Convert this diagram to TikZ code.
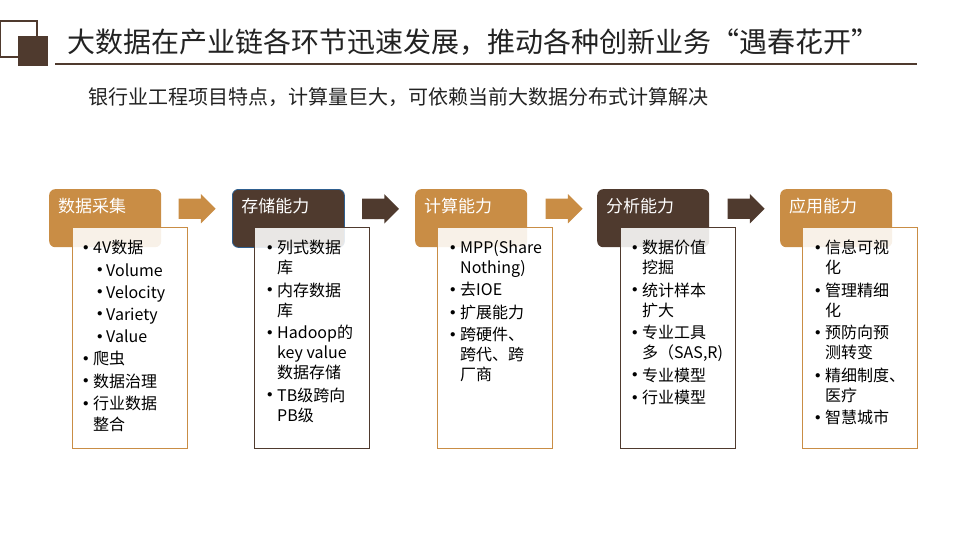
\documentclass[tikz,border=0pt]{standalone}
\usepackage{fontspec}
\setmainfont{Noto Sans CJK SC}
\usetikzlibrary{shapes.arrows}
\definecolor{ochre}{HTML}{C98D45}
\definecolor{umber}{HTML}{4F3A2E}
\definecolor{selblue}{HTML}{2F5F8F}
\definecolor{ink}{HTML}{222222}
\newcommand\dotmark{\raisebox{3.2pt}{\fontsize{11}{11}\selectfont$\bullet$}}
\newcommand\itm[1]{\makebox[10pt][l]{\dotmark}#1}
\newcommand\cnt[1]{\hspace*{10pt}#1}
\newcommand\sitm[1]{\hspace*{14pt}\makebox[9pt][l]{\dotmark}#1}

\begin{document}
\begin{tikzpicture}[x=1pt, y=-1pt,
    hdr/.style={rounded corners=6pt, text=white, font=\fontsize{17}{20}\selectfont, text width=94pt, align=left, inner xsep=9pt, inner ysep=0pt, text height=23pt, text depth=35pt, anchor=north west},
    card/.style={draw=#1, fill=white, fill opacity=0.88, line width=1pt, minimum width=115pt, minimum height=221pt, anchor=north west, inner sep=0pt},
    items/.style={anchor=north west, inner sep=0pt, align=left, text=black, font=\fontsize{16}{20}\selectfont},
    flow/.style={single arrow, fill=#1, minimum height=37pt, single arrow head extend=4.5pt, inner xsep=0pt, inner ysep=10pt, anchor=tail}]
    \useasboundingbox (0,0) rectangle (960,540);
    \draw[umber, line width=1.2pt] (0.6,21) rectangle (37,57);
    \fill[umber] (18,36) rectangle (48,66);
    \draw[umber, line width=2.5pt] (55,64) -- (917,64);
    \node[anchor=west, inner sep=0pt, text=ink, font=\fontsize{28}{32}\selectfont] (title) at (67,42) {大数据在产业链各环节迅速发展，推动各种创新业务“遇春花开”};
    \node[anchor=west, inner sep=0pt, text=ink, font=\fontsize{20}{24}\selectfont] (subtitle) at (88,97) {银行业工程项目特点，计算量巨大，可依赖当前大数据分布式计算解决};

    \node[hdr, fill=ochre] (cai) at (49,189) {数据采集};
    \node[hdr, fill=umber, draw=selblue, line width=0.8pt] (cun) at (232,189) {存储能力};
    \node[hdr, fill=ochre] (suan) at (415,189) {计算能力};
    \node[hdr, fill=umber] (xi) at (597,189) {分析能力};
    \node[hdr, fill=ochre] (yong) at (780,189) {应用能力};

    \node[flow=ochre] (cai2cun) at ([xshift=17pt, yshift=9.5pt]cai.east) {};
    \node[flow=umber] (cun2suan) at ([xshift=17pt, yshift=9.5pt]cun.east) {};
    \node[flow=ochre] (suan2xi) at ([xshift=18pt, yshift=9.5pt]suan.east) {};
    \node[flow=umber] (xi2yong) at ([xshift=18pt, yshift=9.5pt]xi.east) {};

    \node[card=ochre] (caiL) at (72,227) {};
    \node[card=umber] (cunL) at (254,227) {};
    \node[card=ochre] (suanL) at (437,227) {};
    \node[card=umber] (xiL) at (620,227) {};
    \node[card=ochre] (yongL) at (802,227) {};

    \node[items] (caiT) at ([shift={(11,13)}]caiL.north west) {\itm{4V数据}\\[2.5pt]\sitm{Volume}\\[2pt]\sitm{Velocity}\\[2pt]\sitm{Variety}\\[2.5pt]\sitm{Value}\\[2pt]\itm{爬虫}\\[2.5pt]\itm{数据治理}\\[2.5pt]\itm{行业数据}\\[1pt]\cnt{整合}};
    \node[items] (cunT) at ([shift={(13,13)}]cunL.north west) {\itm{列式数据}\\\cnt{库}\\[2.5pt]\itm{内存数据}\\\cnt{库}\\[2.5pt]\itm{Hadoop的}\\\cnt{key value}\\\cnt{数据存储}\\[2.5pt]\itm{TB级跨向}\\\cnt{PB级}};
    \node[items] (suanT) at ([shift={(13,13)}]suanL.north west) {\itm{MPP(Share}\\\cnt{Nothing)}\\[2.5pt]\itm{去IOE}\\[2.5pt]\itm{扩展能力}\\[2.5pt]\itm{跨硬件、}\\\cnt{跨代、跨}\\\cnt{厂商}};
    \node[items] (xiT) at ([shift={(12,13)}]xiL.north west) {\itm{数据价值}\\\cnt{挖掘}\\[2.5pt]\itm{统计样本}\\\cnt{扩大}\\[2.5pt]\itm{专业工具}\\\cnt{多（SAS,R)}\\[2.5pt]\itm{专业模型}\\[2.5pt]\itm{行业模型}};
    \node[items] (yongT) at ([shift={(13,13)}]yongL.north west) {\itm{信息可视}\\\cnt{化}\\[2.5pt]\itm{管理精细}\\\cnt{化}\\[2.5pt]\itm{预防向预}\\\cnt{测转变}\\[2.5pt]\itm{精细制度、}\\\cnt{医疗}\\[2.5pt]\itm{智慧城市}};
\end{tikzpicture}
\end{document}
